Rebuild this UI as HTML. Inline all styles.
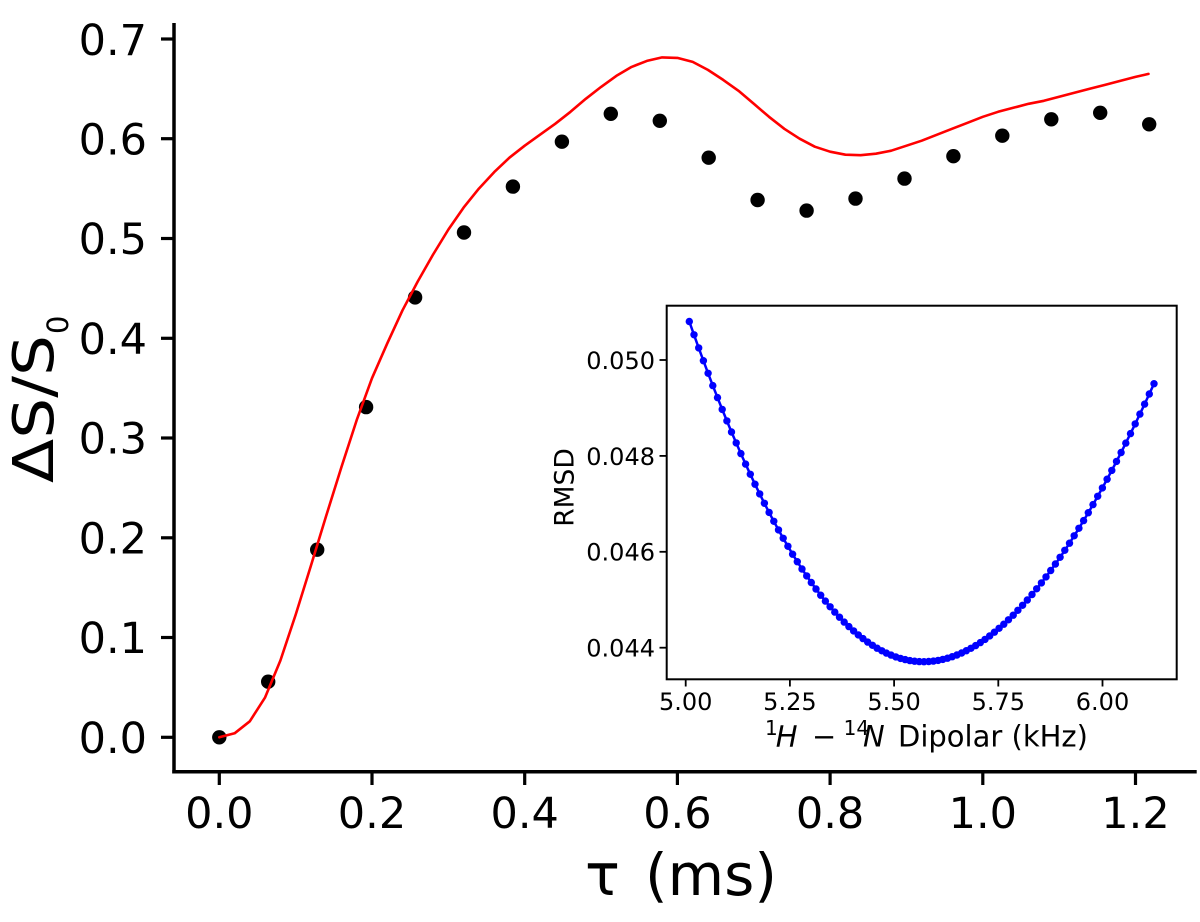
<!DOCTYPE html>
<html>
<head>
<meta charset="utf-8">
<style>
  html, body { margin: 0; padding: 0; background: #ffffff; }
  svg { display: block; }
  text { font-family: "DejaVu Sans", "Liberation Sans", sans-serif; fill: #000; }
  .tk { font-size: 43px; }
  .itk { font-size: 24px; }
</style>
</head>
<body>
<svg width="1200" height="922" viewBox="0 0 1200 922" xmlns="http://www.w3.org/2000/svg">
  <defs>
    <marker id="bd" markerUnits="userSpaceOnUse" markerWidth="10" markerHeight="10" refX="5" refY="5" viewBox="0 0 10 10">
      <circle cx="5" cy="5" r="3.7" fill="#0000ff"/>
    </marker>
  </defs>
  <rect x="0" y="0" width="1200" height="922" fill="#ffffff"/>

  <!-- Main axes spines -->
  <line x1="174" y1="23" x2="174" y2="773.5" stroke="#000" stroke-width="3.5"/>
  <line x1="172.3" y1="771.7" x2="1196.7" y2="771.7" stroke="#000" stroke-width="3.5"/>

  <!-- Y ticks -->
  <g stroke="#000" stroke-width="3.2">
    <line x1="161" y1="737.3" x2="174" y2="737.3"/>
    <line x1="161" y1="637.5" x2="174" y2="637.5"/>
    <line x1="161" y1="537.8" x2="174" y2="537.8"/>
    <line x1="161" y1="438.0" x2="174" y2="438.0"/>
    <line x1="161" y1="338.3" x2="174" y2="338.3"/>
    <line x1="161" y1="238.5" x2="174" y2="238.5"/>
    <line x1="161" y1="138.7" x2="174" y2="138.7"/>
    <line x1="161" y1="39.0" x2="174" y2="39.0"/>
  </g>
  <g text-anchor="end">
    <text class="tk" x="147" y="753">0.0</text>
    <text class="tk" x="147" y="653">0.1</text>
    <text class="tk" x="147" y="553.5">0.2</text>
    <text class="tk" x="147" y="453.5">0.3</text>
    <text class="tk" x="147" y="354">0.4</text>
    <text class="tk" x="147" y="254">0.5</text>
    <text class="tk" x="147" y="154.5">0.6</text>
    <text class="tk" x="147" y="55">0.7</text>
  </g>

  <!-- X ticks -->
  <g stroke="#000" stroke-width="3.2">
    <line x1="219.3" y1="771.7" x2="219.3" y2="785"/>
    <line x1="372.0" y1="771.7" x2="372.0" y2="785"/>
    <line x1="524.7" y1="771.7" x2="524.7" y2="785"/>
    <line x1="677.4" y1="771.7" x2="677.4" y2="785"/>
    <line x1="830.1" y1="771.7" x2="830.1" y2="785"/>
    <line x1="982.8" y1="771.7" x2="982.8" y2="785"/>
    <line x1="1135.5" y1="771.7" x2="1135.5" y2="785"/>
  </g>
  <g text-anchor="middle">
    <text class="tk" x="219.3" y="828">0.0</text>
    <text class="tk" x="372.0" y="828">0.2</text>
    <text class="tk" x="524.7" y="828">0.4</text>
    <text class="tk" x="677.4" y="828">0.6</text>
    <text class="tk" x="830.1" y="828">0.8</text>
    <text class="tk" x="982.8" y="828">1.0</text>
    <text class="tk" x="1135.5" y="828">1.2</text>
  </g>

  <!-- Axis labels -->
  <text x="585" y="895" style="font-size:58px">τ</text>
  <text x="645" y="895" style="font-size:58px">(ms)</text>
  <g transform="translate(53,483) rotate(-90)">
    <text x="0" y="0" style="font-size:56px" textLength="148" lengthAdjust="spacingAndGlyphs">ΔS/S</text>
    <text x="149" y="15" style="font-size:29px">0</text>
  </g>

  <!-- Data points -->
  <g fill="#000">
    <circle cx="219.3" cy="737.3" r="7.2"/>
    <circle cx="268.2" cy="681.7" r="7.2"/>
    <circle cx="317.2" cy="549.7" r="7.2"/>
    <circle cx="366.1" cy="407.1" r="7.2"/>
    <circle cx="415.1" cy="297.4" r="7.2"/>
    <circle cx="464.0" cy="232.5" r="7.2"/>
    <circle cx="512.9" cy="186.6" r="7.2"/>
    <circle cx="561.9" cy="141.7" r="7.2"/>
    <circle cx="610.8" cy="113.8" r="7.2"/>
    <circle cx="659.8" cy="120.8" r="7.2"/>
    <circle cx="708.7" cy="157.7" r="7.2"/>
    <circle cx="757.6" cy="200.0" r="7.2"/>
    <circle cx="806.6" cy="210.6" r="7.2"/>
    <circle cx="855.5" cy="198.6" r="7.2"/>
    <circle cx="904.5" cy="178.6" r="7.2"/>
    <circle cx="953.4" cy="156.2" r="7.2"/>
    <circle cx="1002.3" cy="135.7" r="7.2"/>
    <circle cx="1051.3" cy="119.3" r="7.2"/>
    <circle cx="1100.2" cy="112.8" r="7.2"/>
    <circle cx="1149.2" cy="124.3" r="7.2"/>
  </g>

  <!-- Fit curve -->
  <polyline fill="none" stroke="#ff0000" stroke-width="2.6" stroke-linejoin="round" stroke-linecap="round"
    points="219.3,737.3 234.6,733.3 249.8,721.3 265.1,697.4 280.4,660.5 295.7,614.6 310.9,565.7 326.2,515.8 341.5,466.9 356.7,420.1 372.0,378.2 387.3,343.3 402.5,310.3 417.8,281.4 433.1,254.5 448.4,229.5 463.6,207.6 478.9,188.6 494.2,172.1 509.4,157.7 524.7,145.7 540.0,134.7 555.2,123.8 570.5,111.8 585.8,98.8 601.1,86.9 616.3,75.9 631.6,66.9 646.9,60.9 662.1,57.4 677.4,57.9 692.7,61.9 707.9,69.9 723.2,79.9 738.5,90.8 753.8,103.8 769.0,116.8 784.3,128.8 799.6,138.7 814.8,146.7 830.1,151.7 845.4,154.7 860.6,155.2 875.9,153.7 891.2,150.7 906.5,145.7 921.7,140.7 937.0,134.7 952.3,128.7 967.5,122.8 982.8,116.8 998.1,111.8 1013.3,107.8 1028.6,103.8 1043.9,100.8 1059.2,96.8 1074.4,92.8 1089.7,88.8 1105.0,84.9 1120.2,80.9 1135.5,76.9 1148.5,73.9"/>

  <!-- Inset axes -->
  <rect x="666.7" y="305.7" width="510" height="373.6" fill="#ffffff" stroke="#000" stroke-width="2"/>

  <!-- Inset curve -->
  <polyline fill="none" stroke="#0000ff" stroke-width="2.5" marker-start="url(#bd)" marker-mid="url(#bd)" marker-end="url(#bd)"
    points="689.3,321.5 694.0,334.8 698.7,347.9 703.4,360.7 708.1,373.3 712.8,385.6 717.5,397.6 722.2,409.4 726.9,420.9 731.5,432.0 736.2,442.9 740.9,453.6 745.6,464.1 750.3,474.3 755.0,484.2 759.7,493.9 764.4,503.3 769.1,512.4 773.8,521.3 778.5,529.9 783.2,538.3 787.9,546.3 792.6,554.2 797.3,561.7 802.0,569.0 806.7,575.9 811.3,582.5 816.0,589.0 820.7,595.2 825.4,601.1 830.1,606.8 834.8,612.1 839.5,617.2 844.2,622.1 848.9,626.6 853.6,630.9 858.3,634.9 863.0,638.6 867.7,642.1 872.4,645.3 877.1,648.2 881.8,650.8 886.4,653.1 891.1,655.1 895.8,656.9 900.5,658.4 905.2,659.6 909.9,660.6 914.6,661.2 919.3,661.6 924.0,661.7 928.7,661.5 933.4,661.1 938.1,660.4 942.8,659.4 947.5,658.2 952.2,656.7 956.9,655.0 961.6,653.0 966.3,650.7 971.0,648.3 975.6,645.6 980.3,642.6 985.0,639.4 989.7,635.9 994.4,632.2 999.1,628.3 1003.8,624.2 1008.5,619.8 1013.2,615.2 1017.9,610.3 1022.6,605.3 1027.3,600.0 1032.0,594.5 1036.7,588.8 1041.4,582.9 1046.0,576.9 1050.7,570.5 1055.4,564.0 1060.1,557.3 1064.8,550.3 1069.5,543.2 1074.2,535.8 1078.9,528.3 1083.6,520.6 1088.3,512.7 1093.0,504.6 1097.7,496.3 1102.4,487.9 1107.1,479.2 1111.8,470.4 1116.5,461.4 1121.1,452.5 1125.8,443.1 1130.5,433.6 1135.2,423.9 1139.9,414.1 1144.6,404.1 1149.3,394.0 1154.0,383.7"/>

  <!-- Inset y ticks -->
  <g stroke="#000" stroke-width="1.8">
    <line x1="659.5" y1="360.0" x2="666.7" y2="360.0"/>
    <line x1="659.5" y1="455.9" x2="666.7" y2="455.9"/>
    <line x1="659.5" y1="551.8" x2="666.7" y2="551.8"/>
    <line x1="659.5" y1="647.7" x2="666.7" y2="647.7"/>
  </g>
  <g text-anchor="end">
    <text class="itk" x="655" y="369">0.050</text>
    <text class="itk" x="655" y="464.8">0.048</text>
    <text class="itk" x="655" y="560.7">0.046</text>
    <text class="itk" x="655" y="656.6">0.044</text>
  </g>

  <!-- Inset x ticks -->
  <g stroke="#000" stroke-width="1.8">
    <line x1="685.7" y1="679.3" x2="685.7" y2="686.5"/>
    <line x1="789.9" y1="679.3" x2="789.9" y2="686.5"/>
    <line x1="894.1" y1="679.3" x2="894.1" y2="686.5"/>
    <line x1="998.3" y1="679.3" x2="998.3" y2="686.5"/>
    <line x1="1102.5" y1="679.3" x2="1102.5" y2="686.5"/>
  </g>
  <g text-anchor="middle">
    <text class="itk" x="685.7" y="710">5.00</text>
    <text class="itk" x="789.9" y="710">5.25</text>
    <text class="itk" x="894.1" y="710">5.50</text>
    <text class="itk" x="998.3" y="710">5.75</text>
    <text class="itk" x="1102.5" y="710">6.00</text>
  </g>

  <!-- Inset labels -->
  <text x="765" y="735" style="font-size:20px">1</text>
  <text x="775.7" y="746.7" style="font-size:29px;font-style:italic">H</text>
  <text x="812" y="746.7" style="font-size:29px">−</text>
  <text x="843.6" y="735" style="font-size:20px">14</text>
  <text x="863" y="746.7" style="font-size:29px;font-style:italic">N</text>
  <text x="898" y="746.7" style="font-size:29px">Dipolar (kHz)</text>

  <text transform="translate(573.3,487.5) rotate(-90)" text-anchor="middle" style="font-size:26.5px">RMSD</text>
</svg>
</body>
</html>
